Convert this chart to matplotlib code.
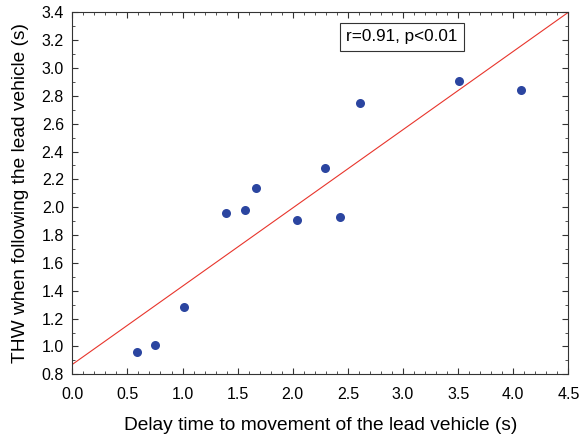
import numpy as np
import matplotlib.pyplot as plt
from matplotlib.ticker import MultipleLocator

plt.rcParams['font.family'] = ['Liberation Sans', 'DejaVu Sans']

# values
delay = [0.59, 0.75, 1.01, 1.39, 1.57, 1.67, 2.04, 2.29, 2.43, 2.61, 3.51, 4.07]
thw = [0.96, 1.01, 1.28, 1.96, 1.98, 2.14, 1.91, 2.28, 1.93, 2.75, 2.91, 2.84]

# regression line
intercept = 0.871
slope = 0.562
stat_text = "r=0.91, p<0.01"

fig = plt.figure(figsize=(5.87, 4.36), dpi=100)
ax = fig.add_axes([0.1232, 0.1415, 0.845, 0.8303])

xs = np.array([0.0, 4.5])
ax.plot(xs, intercept + slope * xs, color='#e8352c', lw=0.8)
ax.plot(delay, thw, 'o', color='#2b45a0', markersize=6.5, markeredgewidth=0)

ax.set_xlim(0, 4.5)
ax.set_ylim(0.8, 3.4)
ax.xaxis.set_major_locator(MultipleLocator(0.5))
ax.xaxis.set_minor_locator(MultipleLocator(0.1))
ax.yaxis.set_major_locator(MultipleLocator(0.2))
ax.yaxis.set_minor_locator(MultipleLocator(0.1))
ax.xaxis.set_major_formatter(plt.FormatStrFormatter('%.1f'))
ax.yaxis.set_major_formatter(plt.FormatStrFormatter('%.1f'))
ax.tick_params(which='both', direction='in', top=True, right=True, labelsize=11.5, color='#333333')
ax.tick_params(which='major', length=4)
ax.tick_params(which='minor', length=2)
ax.tick_params(axis='x', which='major', pad=9)
ax.tick_params(axis='y', which='major', pad=6)
for s in ax.spines.values():
    s.set_color('#333333')

ax.set_xlabel("Delay time to movement of the lead vehicle (s)", fontsize=13.8, labelpad=11)
ax.set_ylabel("THW when following the lead vehicle (s)", fontsize=13.8, labelpad=9)

ax.text(2.99, 3.223, stat_text, fontsize=12.3, ha='center', va='center',
        bbox=dict(boxstyle='square,pad=0.38', fc='white', ec='#333333', lw=0.8))

fig.savefig("out.png", dpi=100)
